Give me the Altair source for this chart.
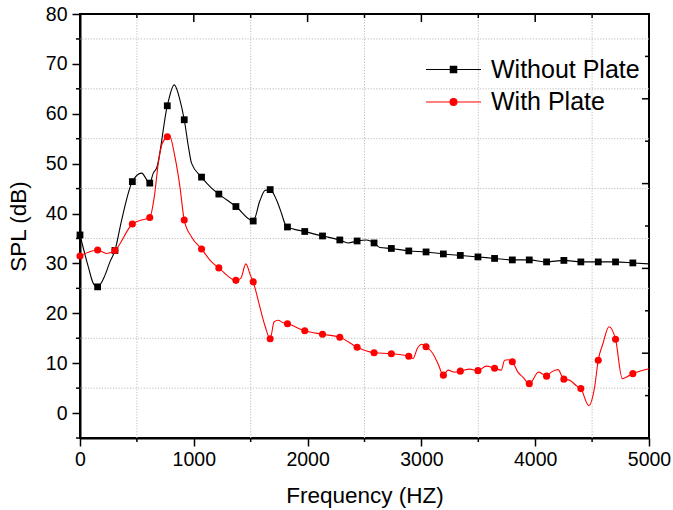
import altair as alt
import pandas as pd

# ---------------- data ----------------
series_names = ["Without Plate", "With Plate"]

marker_freq = [0, 155, 307, 460, 613, 767, 916, 1068, 1220, 1370, 1522, 1671, 1823,
               1975, 2131, 2283, 2435, 2584, 2736, 2889, 3041, 3193, 3342, 3497,
               3643, 3799, 3948, 4100, 4252, 4401, 4554, 4706, 4858]
without_marker_spl = [35.7, 25.3, 32.6, 46.4, 46.1, 61.6, 58.8, 47.3, 43.9, 41.4, 38.5,
                      44.8, 37.3, 36.4, 35.5, 34.7, 34.5, 34.1, 33.0, 32.5, 32.3, 31.9,
                      31.6, 31.3, 31.0, 30.7, 30.7, 30.3, 30.6, 30.3, 30.3, 30.3, 30.1]
with_marker_spl = [31.5, 32.7, 32.6, 37.9, 39.2, 55.4, 38.7, 32.9, 29.1, 26.6, 26.3,
                   14.9, 17.9, 16.5, 15.8, 15.2, 13.2, 12.1, 11.9, 11.4, 13.3, 7.6,
                   8.4, 8.5, 9.0, 10.3, 5.9, 7.4, 6.8, 4.9, 10.6, 14.8, 7.9]

# curve points between the markers
without_curve_freq = [73, 117, 219, 263, 366, 541, 644, 673, 828, 878, 957, 980, 1156,
                      1580, 1625, 1727, 1771, 1800, 2356, 2517, 2634, 5000]
without_curve_spl = [29.3, 26.0, 27.6, 30.3, 38.7, 48.1, 48.1, 49.1, 65.8, 62.8, 52.8,
                     50.1, 45.1, 42.5, 44.6, 42.7, 40.0, 38.0, 34.1, 34.7, 33.2, 29.9]

with_curve_freq = [234, 541, 653, 688, 723, 785, 834, 878, 980, 1156, 1413, 1457, 1498,
                   1566, 1624, 1706, 1741, 1785, 2926, 2965, 3005, 3102, 3146, 3234,
                   3292, 3424, 3570, 3702, 3731, 3761, 3848, 3892, 4030, 4068, 4141,
                   4200, 4302, 4366, 4471, 4522, 4595, 4648, 4765, 4800, 5000]
with_curve_spl = [32.0, 38.7, 43.4, 50.1, 54.1, 55.7, 51.4, 45.4, 35.3, 30.3, 27.0, 29.9,
                  27.6, 22.6, 17.6, 18.3, 18.6, 18.1, 10.9, 13.0, 13.8, 11.9, 9.9, 8.6,
                  8.2, 8.8, 9.4, 8.6, 10.6, 10.7, 8.2, 7.2, 8.2, 7.8, 8.2, 8.7, 6.6,
                  5.4, 1.5, 5.2, 13.9, 17.3, 6.9, 7.2, 8.9]

# axes / ticks / grid
x_major = [0, 1000, 2000, 3000, 4000, 5000]
x_minor = [500, 1500, 2500, 3500, 4500]
y_major = [0, 10, 20, 30, 40, 50, 60, 70, 80]
y_minor = [-5, 5, 15, 25, 35, 45, 55, 65, 75]
right_major = [12, 29, 46, 63]
right_minor = [3.5, 20.5, 37.5, 54.5, 71.5]

W, H = 569, 424
FONT = "Liberation Sans"

x_scale = alt.Scale(domain=[0, 5000], nice=False, zero=False)
y_scale = alt.Scale(domain=[-5, 80], nice=False, zero=False)
x_axis = alt.Axis(values=x_major, format="d", title="Frequency (HZ)", grid=False, tickSize=8,
                  tickWidth=1.5, tickColor="black", domainColor="black", domainWidth=2,
                  labelFontSize=19.5, labelFont=FONT, labelColor="black", labelPadding=4,
                  labelFlush=False, labelOverlap=False, titleFont=FONT, titleFontSize=22.5,
                  titleFontWeight="normal", titleColor="black", titlePadding=16)
y_axis = alt.Axis(values=y_major, format="d", title="SPL (dB)", grid=False, tickSize=8,
                  tickWidth=1.5, tickColor="black", domainColor="black", domainWidth=2,
                  labelFontSize=19.5, labelFont=FONT, labelColor="black", labelPadding=5,
                  labelFlush=False, labelOverlap=False, titleFont=FONT, titleFontSize=22.5,
                  titleFontWeight="normal", titleColor="black", titlePadding=15)


def X(field):
    return alt.X(field, type="quantitative", scale=x_scale, axis=x_axis)


def Y(field):
    return alt.Y(field, type="quantitative", scale=y_scale, axis=y_axis)


def merged(freq_a, spl_a, freq_b, spl_b):
    df = pd.DataFrame({"f": freq_a + freq_b, "spl": spl_a + spl_b})
    return df.sort_values("f").reset_index(drop=True)


without_curve = merged(marker_freq, without_marker_spl, without_curve_freq, without_curve_spl)
with_curve = merged(marker_freq, with_marker_spl, with_curve_freq, with_curve_spl)
without_pts = pd.DataFrame({"f": marker_freq, "spl": without_marker_spl})
with_pts = pd.DataFrame({"f": marker_freq, "spl": with_marker_spl})

grid_style = dict(color="#bdbdbd", strokeDash=[1.2, 1.6], strokeWidth=1)
grid_x = alt.Chart(pd.DataFrame({"v": x_minor})).mark_rule(**grid_style).encode(x=X("v"))
grid_y = alt.Chart(pd.DataFrame({"v": y_minor[1:]})).mark_rule(**grid_style).encode(y=Y("v"))

tick_style = dict(color="black", strokeWidth=1.5)
bottom_minor = alt.Chart(pd.DataFrame({"v": x_minor})).mark_rule(**tick_style).encode(
    x=X("v"), y=alt.value(H), y2=alt.value(H + 4))
left_minor = alt.Chart(pd.DataFrame({"v": y_minor})).mark_rule(**tick_style).encode(
    y=Y("v"), x=alt.value(-4), x2=alt.value(0))
top_major = alt.Chart(pd.DataFrame({"v": x_major})).mark_rule(**tick_style).encode(
    x=X("v"), y=alt.value(0), y2=alt.value(8))
top_minor = alt.Chart(pd.DataFrame({"v": x_minor})).mark_rule(**tick_style).encode(
    x=X("v"), y=alt.value(0), y2=alt.value(4))
right_maj = alt.Chart(pd.DataFrame({"v": right_major})).mark_rule(**tick_style).encode(
    y=Y("v"), x=alt.value(W - 7), x2=alt.value(W))
right_min = alt.Chart(pd.DataFrame({"v": right_minor})).mark_rule(**tick_style).encode(
    y=Y("v"), x=alt.value(W - 4), x2=alt.value(W))

black_line = alt.Chart(without_curve).mark_line(
    color="black", strokeWidth=1.1, interpolate="monotone").encode(x=X("f"), y=Y("spl"))
black_pts = alt.Chart(without_pts).mark_point(
    shape="square", filled=True, color="black", size=46, opacity=1).encode(x=X("f"), y=Y("spl"))
red_line = alt.Chart(with_curve).mark_line(
    color="#ff0000", strokeWidth=1.1, interpolate="monotone").encode(x=X("f"), y=Y("spl"))
red_pts = alt.Chart(with_pts).mark_point(
    shape="circle", filled=True, color="#ff0000", size=50, opacity=1).encode(x=X("f"), y=Y("spl"))

# legend: symbols are a short line with the marker on it
sq = "M-2,0H2M-0.23,-0.23H0.23V0.23H-0.23Z"
ci = "M-2,0H2M0.25,0A0.25,0.25 0 1,1 -0.25,0A0.25,0.25 0 1,1 0.25,0Z"
legend_df = pd.DataFrame({"series": series_names})
leg_scale_dom = series_names
legend = alt.Legend(title=None, orient="none", legendX=359, legendY=41,
                    labelFont=FONT, labelFontSize=25, labelColor="black",
                    labelOffset=23, symbolSize=756, symbolStrokeWidth=1.2,
                    symbolFillColor="black", symbolStrokeColor="black",
                    rowPadding=4.5, padding=0, labelLimit=400)
legend_layer = alt.Chart(legend_df).mark_point(
    filled=True, size=756, strokeWidth=1.2, clip=True, opacity=1).encode(
    x=alt.XDatum(-3000, type="quantitative", scale=x_scale, axis=x_axis),
    y=alt.YDatum(40, type="quantitative", scale=y_scale, axis=y_axis),
    fill=alt.Fill("series:N", scale=alt.Scale(domain=leg_scale_dom, range=["black", "#ff0000"]), legend=legend),
    stroke=alt.Stroke("series:N", scale=alt.Scale(domain=leg_scale_dom, range=["black", "#ff0000"]), legend=legend),
    shape=alt.Shape("series:N", scale=alt.Scale(domain=leg_scale_dom, range=[sq, ci]), legend=legend),
)

chart = alt.layer(
    grid_x, grid_y, bottom_minor, left_minor, top_major, top_minor, right_maj, right_min,
    black_line, black_pts, red_line, red_pts, legend_layer
).properties(
    width=W, height=H,
    autosize=alt.AutoSizeParams(type="none"),
    padding={"left": 80, "top": 14, "right": 24, "bottom": 72},
    background="white",
).configure_view(stroke="black", strokeWidth=2)

chart.save("out.html", embed_options={"renderer": "svg", "actions": False})
